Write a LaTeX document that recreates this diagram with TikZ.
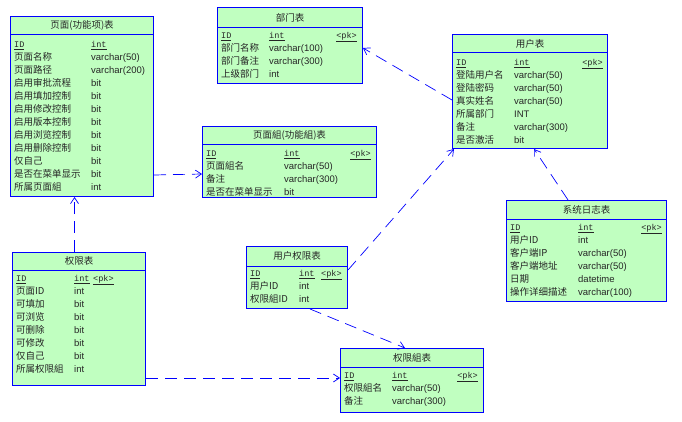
\documentclass[tikz,border=0pt]{standalone}
\usepackage{fontspec}
\usepackage{array}
\setmainfont{Liberation Sans}
\setmonofont[Scale=0.9]{Liberation Mono}
\newfontfamily\cjk{Noto Sans CJK SC}
\usetikzlibrary{arrows.meta}
\definecolor{tblfill}{RGB}{192,255,192}
\definecolor{tblline}{RGB}{0,0,255}
\tikzstyle{tbl} = [draw=tblline,fill=tblfill,line width=1pt,anchor=north west,inner sep=0pt]
\tikzstyle{ttl} = [font=\cjk\fontsize{9.5}{13}\selectfont,text=black!85]
\tikzstyle{rows} = [anchor=north west,inner sep=0pt,font=\fontsize{9.5}{13}\selectfont,text=black!85]
\tikzstyle{pk} = [inner sep=0pt,font=\fontsize{9.5}{13}\selectfont,text=black!85]
\tikzstyle{sepline} = [draw=tblline,line width=1pt]
\tikzstyle{fk} = [->,draw=tblline,line width=0.7pt,dash pattern=on 12pt off 7pt]
\tikzset{>={Straight Barb[length=6pt,width=8pt]}}
\newcommand{\key}[1]{\underline{\ttfamily #1}}

\begin{document}
\begin{tikzpicture}[x=1pt,y=-1pt]
  \fill[white] (0,0) rectangle (682,422);
  \useasboundingbox (0,0) rectangle (682,422);

  % page table
  \node[tbl,minimum width=143pt,minimum height=180pt] (page) at (10,16) {};
  \node[ttl] (pageT) at ([yshift=-9.5pt]page.north) {页面(功能项)表};
  \draw[sepline] ([yshift=-19pt]page.north west) -- ([yshift=-19pt]page.north east);
  \node[rows] (pageR) at (14,38.4) {\begin{tabular}{@{}>{\cjk}p{77pt}@{}l@{}}
    \key{ID} & \key{int}\\
    页面名称 & varchar(50)\\
    页面路径 & varchar(200)\\
    启用审批流程 & bit\\
    启用填加控制 & bit\\
    启用修改控制 & bit\\
    启用版本控制 & bit\\
    启用浏览控制 & bit\\
    启用删除控制 & bit\\
    仅自己 & bit\\
    是否在菜单显示 & bit\\
    所属页面組 & int
  \end{tabular}};

  % dept table
  \node[tbl,minimum width=145pt,minimum height=76pt] (dept) at (217,7) {};
  \node[ttl] (deptT) at ([yshift=-10.5pt]dept.north) {部门表};
  \draw[sepline] ([yshift=-21pt]dept.north west) -- ([yshift=-21pt]dept.north east);
  \node[rows] (deptR) at (221,29.4) {\begin{tabular}{@{}>{\cjk}p{48pt}@{}l@{}}
    \key{ID} & \key{int}\\
    部门名称 & varchar(100)\\
    部门备注 & varchar(300)\\
    上级部门 & int
  \end{tabular}};
  \node[pk,anchor=base east] (deptK) at (357,38.5) {\key{<pk>}};

  % user table
  \node[tbl,minimum width=155pt,minimum height=114pt] (user) at (452,34) {};
  \node[ttl] (userT) at ([yshift=-9.5pt]user.north) {用户表};
  \draw[sepline] ([yshift=-19pt]user.north west) -- ([yshift=-19pt]user.north east);
  \node[rows] (userR) at (456,56.4) {\begin{tabular}{@{}>{\cjk}p{58pt}@{}l@{}}
    \key{ID} & \key{int}\\
    登陆用户名 & varchar(50)\\
    登陆密码 & varchar(50)\\
    真实姓名 & varchar(50)\\
    所属部门 & INT\\
    备注 & varchar(300)\\
    是否激活 & bit
  \end{tabular}};
  \node[pk,anchor=base east] (userK) at (603,65.5) {\key{<pk>}};

  % page group table
  \node[tbl,minimum width=174pt,minimum height=71pt] (grp) at (202,126) {};
  \node[ttl] (grpT) at ([yshift=-9.5pt]grp.north) {页面組(功能組)表};
  \draw[sepline] ([yshift=-19pt]grp.north west) -- ([yshift=-19pt]grp.north east);
  \node[rows] (grpR) at (206,147.4) {\begin{tabular}{@{}>{\cjk}p{78pt}@{}l@{}}
    \key{ID} & \key{int}\\
    页面組名 & varchar(50)\\
    备注 & varchar(300)\\
    是否在菜单显示 & bit
  \end{tabular}};
  \node[pk,anchor=base east] (grpK) at (371,156.5) {\key{<pk>}};

  % permission table
  \node[tbl,minimum width=133pt,minimum height=133pt] (perm) at (12,252) {};
  \node[ttl] (permT) at ([yshift=-9pt]perm.north) {权限表};
  \draw[sepline] ([yshift=-18pt]perm.north west) -- ([yshift=-18pt]perm.north east);
  \node[rows] (permR) at (16,272.4) {\begin{tabular}{@{}>{\cjk}p{58pt}@{}l@{}}
    \key{ID} & \key{int}\\
    页面ID & int\\
    可填加 & bit\\
    可浏览 & bit\\
    可删除 & bit\\
    可修改 & bit\\
    仅自己 & bit\\
    所属权限組 & int
  \end{tabular}};
  \node[pk,anchor=base west] (permK) at (93,281.5) {\key{<pk>}};

  % user permission table
  \node[tbl,minimum width=101pt,minimum height=62pt] (uperm) at (246,246) {};
  \node[ttl] (upermT) at ([yshift=-10pt]uperm.north) {用户权限表};
  \draw[sepline] ([yshift=-20pt]uperm.north west) -- ([yshift=-20pt]uperm.north east);
  \node[rows] (upermR) at (250,267.4) {\begin{tabular}{@{}>{\cjk}p{49pt}@{}l@{}}
    \key{ID} & \key{int}\\
    用户ID & int\\
    权限組ID & int
  \end{tabular}};
  \node[pk,anchor=base west] (upermK) at (321,276.5) {\key{<pk>}};

  % log table
  \node[tbl,minimum width=160pt,minimum height=101pt] (log) at (506,200) {};
  \node[ttl] (logT) at ([yshift=-9.5pt]log.north) {系统日志表};
  \draw[sepline] ([yshift=-19pt]log.north west) -- ([yshift=-19pt]log.north east);
  \node[rows] (logR) at (510,221.4) {\begin{tabular}{@{}>{\cjk}p{68pt}@{}l@{}}
    \key{ID} & \key{int}\\
    用户ID & int\\
    客户端IP & varchar(50)\\
    客户端地址 & varchar(50)\\
    日期 & datetime\\
    操作详细描述 & varchar(100)
  \end{tabular}};
  \node[pk,anchor=base east] (logK) at (662,230.5) {\key{<pk>}};

  % permission group table
  \node[tbl,minimum width=143pt,minimum height=64pt] (pgrp) at (340,348) {};
  \node[ttl] (pgrpT) at ([yshift=-9.5pt]pgrp.north) {权限組表};
  \draw[sepline] ([yshift=-19pt]pgrp.north west) -- ([yshift=-19pt]pgrp.north east);
  \node[rows] (pgrpR) at (344,369.4) {\begin{tabular}{@{}>{\cjk}p{48pt}@{}l@{}}
    \key{ID} & \key{int}\\
    权限組名 & varchar(50)\\
    备注 & varchar(300)
  \end{tabular}};
  \node[pk,anchor=base east] (pgrpK) at (478,378.5) {\key{<pk>}};

  % references
  \draw[fk] ([yshift=22pt]page.south east) -- ([yshift=-48pt]grp.north west);
  \draw[fk] ([xshift=62.5pt]perm.north west) -- ([xshift=64.5pt]page.south west);
  \draw[fk] ([yshift=8pt]perm.south east) -- ([yshift=35pt]pgrp.south west);
  \draw[fk] ([yshift=-24pt]uperm.north east) -- ([xshift=2pt]user.south west);
  \draw[fk] ([xshift=64pt]uperm.south west) -- ([xshift=65pt]pgrp.north west);
  \draw[fk] ([yshift=-66pt]user.north west) -- ([yshift=-41pt]dept.north east);
  \draw[fk] ([xshift=62pt]log.north west) -- ([xshift=82pt]user.south west);

\end{tikzpicture}
\end{document}
